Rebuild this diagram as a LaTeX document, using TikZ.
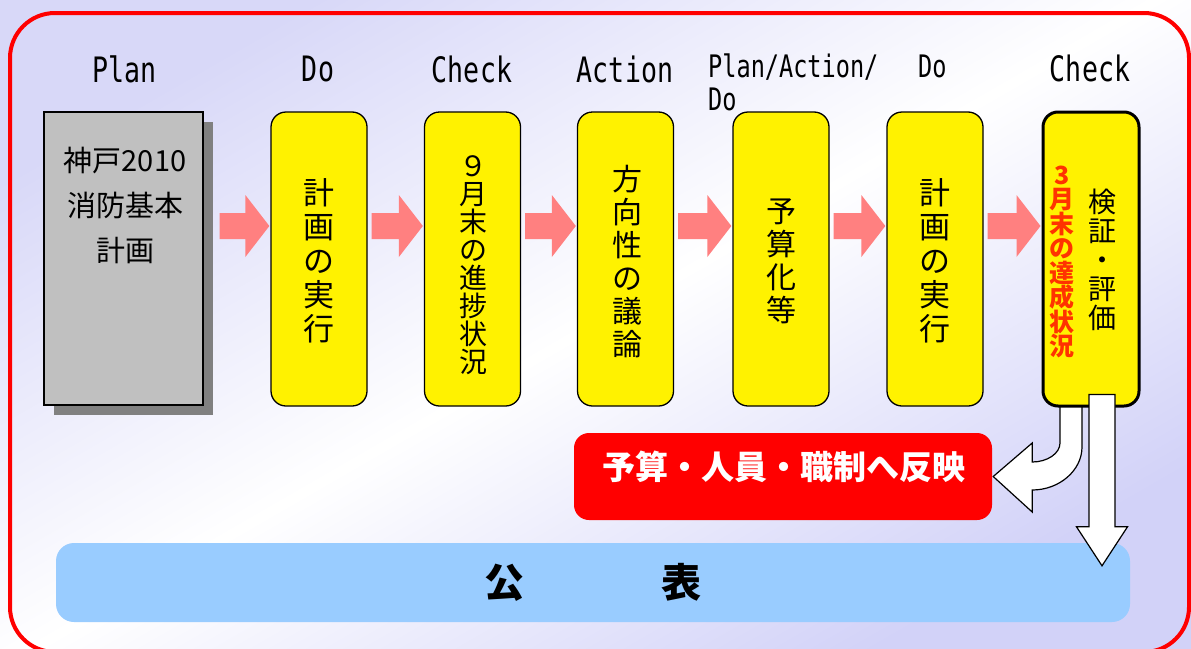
\documentclass[tikz,border=0pt]{standalone}
\usepackage{fontspec}
\setmainfont{Noto Sans CJK JP}
\newfontfamily\lab[FakeStretch=0.76]{DejaVu Sans Mono}
\usetikzlibrary{calc,shadows}
\definecolor{bgA}{RGB}{216,216,248}
\definecolor{bgB}{RGB}{210,210,248}
\definecolor{pinkA}{RGB}{255,128,128}
\definecolor{grayA}{RGB}{192,192,192}
\definecolor{grayB}{RGB}{128,128,128}
\definecolor{blueA}{RGB}{153,204,255}
\definecolor{redT}{RGB}{255,51,0}
\pgfdeclarelayer{back}
\pgfdeclarelayer{mid}
\pgfsetlayers{back,mid,main}
\newcommand\pinkarrow[3]{%
  \fill[pinkarr] let \p1=(#1.east), \p2=(#2.west) in
    (\x1+#3, \y2+46pt) -- (\x2-25pt, \y2+46pt) -- (\x2-25pt, \y2+64pt) --
    (\x2-1pt, \y2+33pt) -- (\x2-25pt, \y2+2pt) -- (\x2-25pt, \y2+20pt) --
    (\x1+#3, \y2+20pt) -- cycle;}
\begin{document}
\begin{tikzpicture}[x=1pt,y=-1pt,
  ybox/.style={draw=black, line width=1.3pt, fill=yellow, rounded corners=15pt,
    minimum width=96pt, minimum height=294pt, inner sep=0pt},
  planbox/.style={draw=black, line width=1.3pt, fill=grayA, minimum width=159pt,
    minimum height=293pt, inner sep=0pt,
    drop shadow={shadow xshift=10pt, shadow yshift=-10pt, fill=grayB, opacity=1}},
  toplab/.style={font=\lab\fontsize{35}{35}\selectfont, anchor=base, inner sep=0pt},
  smalllab/.style={font=\lab\fontsize{31}{33}\selectfont, inner sep=0pt},
  vt/.style={align=center, inner sep=0pt},
  pinkarr/.style={fill=pinkA},
  whitearr/.style={fill=white, draw=black, line width=1.2pt, line join=miter}
]
\useasboundingbox (0,0) rectangle (1191,648);
\begin{pgfonlayer}{back}
\shade[top color=bgA, bottom color=bgB, middle color=white, shading angle=30]
  (0,0) rectangle (1191,648);
\draw[red, line width=4pt, rounded corners=45pt] (10,13) rectangle (1189,652);
\end{pgfonlayer}

% top labels
\node[toplab] (l1) at (124.5,82) {Plan};
\node[toplab] (l2) at (318,81) {Do};
\node[toplab] (l3) at (472,82) {Check};
\node[toplab] (l4) at (625,82) {Action};
\node[smalllab, anchor=north west, align=left] (l5) at (708,54) {Plan/Action/\\Do};
\node[smalllab, anchor=base west] (l6) at (918,77) {Do};
\node[toplab] (l7) at (1090,81) {Check};

% plan box
\node[planbox] (plan) at (123.5,258.5) {};
\node[vt, font=\fontsize{29}{45}\selectfont] (tplan) at (125,205) {神戸2010\\消防基本\\計画};

% yellow boxes
\node[ybox] (b1) at (319,259) {};
\node[ybox] (b2) at (472.5,259) {};
\node[ybox] (b3) at (625.5,259) {};
\node[ybox] (b4) at (781,259) {};
\node[ybox] (b5) at (935,259) {};
\node[ybox, line width=3pt] (chk) at (1091,259) {};

\node[vt, font=\fontsize{31}{34}\selectfont] (t1) at (319,261) {計\\画\\の\\実\\行};
\node[vt, font=\fontsize{28}{28}\selectfont] (t2) at (473,265) {９\\月\\末\\の\\進\\捗\\状\\況};
\node[vt, font=\fontsize{30}{33}\selectfont] (t3) at (627,262) {方\\向\\性\\の\\議\\論};
\node[vt, font=\fontsize{30}{33}\selectfont] (t4) at (781,261) {予\\算\\化\\等};
\node[vt, font=\fontsize{31}{34}\selectfont] (t5) at (935,261) {計\\画\\の\\実\\行};
\node[vt, font=\fontsize{25}{24.5}\selectfont\bfseries, text=redT] (t6a) at (1062,262) {3\\月\\末\\の\\達\\成\\状\\況};
\node[vt, font=\fontsize{28}{29}\selectfont] (t6b) at (1102,260) {検\\証\\・\\評\\価};

% pink arrows
\pinkarrow{plan}{b1}{16pt}
\pinkarrow{b1}{b2}{4pt}
\pinkarrow{b2}{b3}{4pt}
\pinkarrow{b3}{b4}{4pt}
\pinkarrow{b4}{b5}{4pt}
\pinkarrow{b5}{chk}{4pt}

% red box
\node[fill=red, rounded corners=15pt, minimum width=418pt, minimum height=87pt, inner sep=0pt] (refl) at (783,476.5) {};
\node[text=white, font=\fontsize{33}{33}\selectfont\bfseries, inner sep=0pt] (trefl) at (784,467) {予算・人員・職制へ反映};

% blue bar
\node[fill=blueA, rounded corners=18pt, minimum width=1074pt, minimum height=79pt, inner sep=0pt,
  font=\fontsize{40}{40}\selectfont\bfseries] (pub) at (593,582.5) {公\hspace{137pt}表};

% curved white arrow
\begin{pgfonlayer}{mid}
\draw[whitearr] let \p1=(chk.south), \p2=(refl.east) in
  (\x1-31pt, \y1+6pt) -- (\x1-31pt, \y2+33.5pt)
  .. controls (\x1-31pt, \y2+23pt) and (\x2+55pt, \y2+14.5pt) .. (\x2+40pt, \y2+14.5pt)
  -- (\x2+40pt, \y2+33.5pt) -- (\x2+1pt, \y2) -- (\x2+40pt, \y2-35.5pt)
  -- (\x2+40pt, \y2-13.5pt)
  .. controls (\x2+67pt, \y2-13.5pt) and (\x1-9pt, \y2+6pt) .. (\x1-9pt, \y2+29.5pt)
  -- (\x1-9pt, \y1+6pt) -- cycle;
\end{pgfonlayer}

% straight white arrow
\draw[whitearr] let \p1=(chk.south), \p2=(pub.north) in
  (\x1-2pt, \y1+13pt) -- (\x1+24pt, \y1+13pt) -- (\x1+24pt, \y2+16pt)
  -- (\x1+36.5pt, \y2+16pt) -- (\x1+11pt, \y2-23pt) -- (\x1-14.5pt, \y2+16pt)
  -- (\x1-2pt, \y2+16pt) -- cycle;
\end{tikzpicture}
\end{document}
